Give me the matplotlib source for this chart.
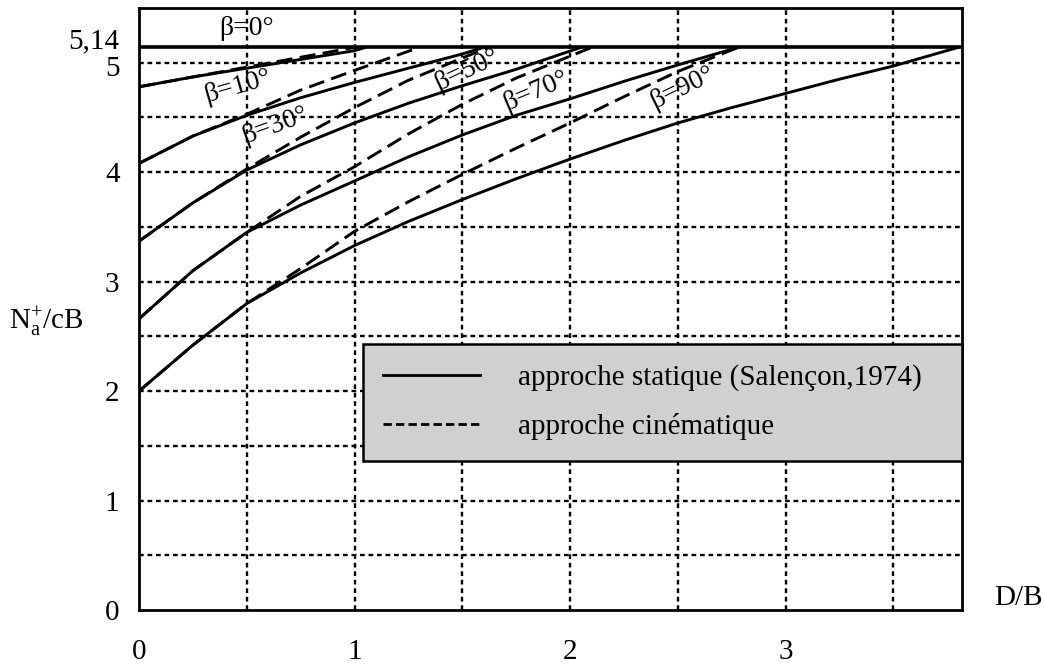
import matplotlib
matplotlib.use("Agg")
import matplotlib.pyplot as plt
import matplotlib.transforms as mtransforms
from matplotlib.lines import Line2D

plt.rcParams["font.family"] = ["Liberation Serif", "DejaVu Serif"]
plt.rcParams["mathtext.fontset"] = "custom"
plt.rcParams["mathtext.rm"] = "Liberation Serif"
plt.rcParams["mathtext.it"] = "Liberation Serif:italic"

# N/cB, static (solid) and kinematic (dashed) approaches
N0 = 5.14  # beta = 0

b10_x_s = [0, 0.25, 0.5, 0.75, 1.0, 1.05]
b10_y_s = [4.78, 4.87, 4.95, 5.03, 5.11, 5.14]
b10_x_d = [0, 0.25, 0.5, 0.75, 1.0]
b10_y_d = [4.78, 4.87, 4.96, 5.05, 5.14]

b30_x_s = [0, 0.25, 0.5, 0.75, 1.0, 1.25, 1.5, 1.6]
b30_y_s = [4.08, 4.33, 4.52, 4.68, 4.82, 4.95, 5.08, 5.14]
b30_x_d = [0, 0.25, 0.5, 0.75, 1.0, 1.3]
b30_y_d = [4.08, 4.33, 4.53, 4.75, 4.93, 5.14]

b50_x_s = [0, 0.25, 0.5, 0.75, 1.0, 1.25, 1.5, 1.75, 2.05]
b50_y_s = [3.37, 3.72, 4.02, 4.25, 4.45, 4.63, 4.79, 4.94, 5.14]
b50_x_d = [0, 0.25, 0.5, 0.75, 1.0, 1.25, 1.62]
b50_y_d = [3.37, 3.72, 4.03, 4.32, 4.59, 4.84, 5.14]

b70_x_s = [0, 0.25, 0.5, 0.75, 1.0, 1.25, 1.5, 1.75, 2.0, 2.25, 2.5, 2.78]
b70_y_s = [2.66, 3.10, 3.45, 3.70, 3.92, 4.14, 4.34, 4.52, 4.67, 4.83, 4.98, 5.14]
b70_x_d = [0, 0.25, 0.5, 0.75, 1.0, 1.25, 1.5, 1.75, 2.1]
b70_y_d = [2.66, 3.10, 3.45, 3.78, 4.05, 4.35, 4.62, 4.86, 5.14]

b90_x_s = [0, 0.25, 0.5, 0.75, 1.0, 1.25, 1.5, 1.75, 2.0, 2.25, 2.5, 2.75, 3.0, 3.25, 3.5, 3.8]
b90_y_s = [2.0, 2.42, 2.80, 3.08, 3.33, 3.55, 3.75, 3.94, 4.12, 4.29, 4.45, 4.59, 4.72, 4.85, 4.97, 5.14]
b90_x_d = [0, 0.25, 0.5, 0.75, 1.0, 1.25, 1.5, 1.75, 2.0, 2.25, 2.5, 2.78]
b90_y_d = [2.0, 2.42, 2.80, 3.12, 3.46, 3.73, 3.98, 4.22, 4.45, 4.69, 4.92, 5.14]

# curve labels: text, x, y, rotation
labels = ["β=0°", "β=10°", "β=30°", "β=50°", "β=70°", "β=90°"]
label_x = [0.50, 0.46, 0.63, 1.52, 1.84, 2.52]
label_y = [5.31, 4.78, 4.43, 4.93, 4.74, 4.77]
label_rot = [0, 16, 20, 25, 23, 26]

yticks = [0, 1, 2, 3, 4, 5, 5.14]
ytick_labels = ["0", "1", "2", "3", "4", "5", "5,14"]
xticks = [0, 1, 2, 3]

fig = plt.figure(figsize=(10.45, 6.66), dpi=100)
ax = fig.add_axes([0.133, 0.084, 0.788, 0.904])
ax.set_xlim(0, 3.82)
ax.set_ylim(0, 5.5)

# dotted grid every 0.5
grid_ls = (0, (2.0, 1.6))
for gx in [0.5 * i for i in range(1, 8)]:
    ax.axvline(gx, color="black", lw=1.7, ls=grid_ls, zorder=1)
for gy in [0.5 * i for i in range(1, 11)]:
    ax.axhline(gy, color="black", lw=1.7, ls=grid_ls, zorder=1)

ax.axhline(N0, color="black", lw=2.6, zorder=3)
solid = dict(color="black", lw=2.1, zorder=3)
dashed = dict(color="black", lw=2.1, ls=(0, (5.5, 2.5)), zorder=3)
for xs, ys, xd, yd in [(b10_x_s, b10_y_s, b10_x_d, b10_y_d),
                       (b30_x_s, b30_y_s, b30_x_d, b30_y_d),
                       (b50_x_s, b50_y_s, b50_x_d, b50_y_d),
                       (b70_x_s, b70_y_s, b70_x_d, b70_y_d),
                       (b90_x_s, b90_y_s, b90_x_d, b90_y_d)]:
    ax.plot(xd, yd, **dashed)
    ax.plot(xs, ys, **solid)

for t, lx, ly, r in zip(labels, label_x, label_y, label_rot):
    ax.text(lx, ly, t, fontsize=20, rotation=r, ha="center", va="center",
            rotation_mode="anchor", zorder=4)

ax.set_xticks(xticks)
ax.set_xticklabels([str(v) for v in xticks])
ax.set_yticks(yticks)
ax.set_yticklabels(ytick_labels)
ax.tick_params(axis="x", length=0, pad=21, labelsize=21)
ax.tick_params(axis="y", length=0, pad=14, labelsize=21)
up = mtransforms.ScaledTranslation(0, 9 / 100, fig.dpi_scale_trans)
down = mtransforms.ScaledTranslation(0, -3 / 100, fig.dpi_scale_trans)
for lab in ax.get_yticklabels():
    if lab.get_text() == "5,14":
        lab.set_transform(lab.get_transform() + up)
    elif lab.get_text() == "5":
        lab.set_transform(lab.get_transform() + down)
for sp in ax.spines.values():
    sp.set_linewidth(2.0)

handles = [Line2D([], [], color="black", lw=2.0),
           Line2D([], [], color="black", lw=2.0, ls=(0, (3, 1.5)))]
leg = ax.legend(handles, ["approche statique (Salençon,1974)", "approche cinématique"],
                loc="upper left", bbox_to_anchor=(0.272, 0.0, 0.728, 0.442),
                mode="expand", borderaxespad=0, fontsize=21, handlelength=3.3,
                handletextpad=1.3, labelspacing=0.75, borderpad=0.7,
                fancybox=False, framealpha=1)
leg.get_frame().set_facecolor("#d0d0d0")
leg.get_frame().set_edgecolor("black")
leg.get_frame().set_linewidth(1.8)
leg.set_zorder(5)

fig.text(46 / 1045, 1 - 322 / 666, r"$\mathrm{N}_{\mathrm{a}}^{+}\mathrm{/cB}$",
         fontsize=21, ha="center", va="center")
fig.text(1018 / 1045, 1 - 598 / 666, "D/B", fontsize=21, ha="center", va="center")

fig.savefig("out.png", dpi=100)
